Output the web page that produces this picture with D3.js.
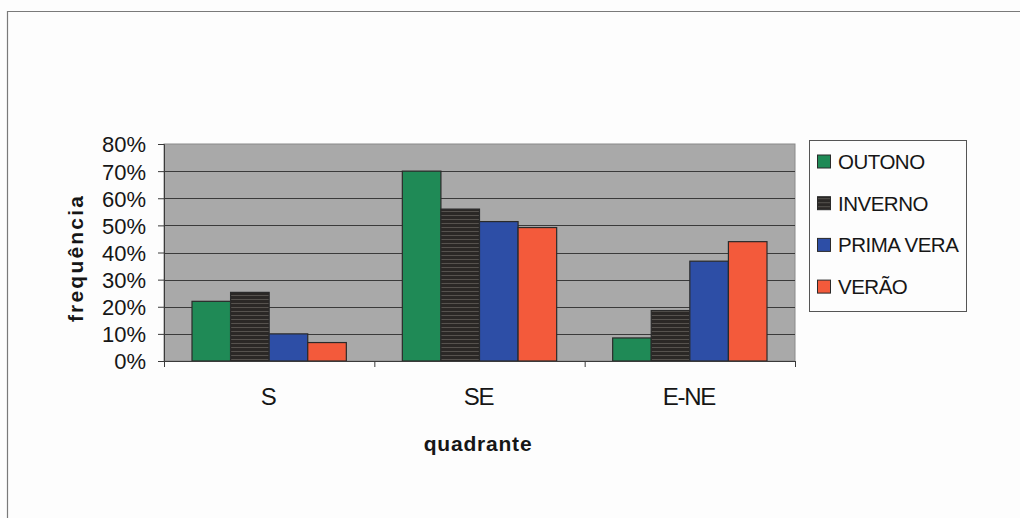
<!DOCTYPE html>
<html>
<head>
<meta charset="utf-8">
<script src="https://cdn.jsdelivr.net/npm/d3@7"></script>
<style>
  html, body { margin: 0; padding: 0; background: #fdfdfd; }
  svg { display: block; }
  text { font-family: "Liberation Sans", Arial, sans-serif; fill: #161616; }
</style>
</head>
<body>
<svg id="chart" width="1020" height="518"></svg>
<script>
// Wind direction frequency by season
const categories = ["S", "SE", "E-NE"];
const seasons = ["OUTONO", "INVERNO", "PRIMA VERA", "VERÃO"];
const outono    = [0.22, 0.70, 0.085];
const inverno   = [0.253, 0.56, 0.186];
const primavera = [0.10, 0.514, 0.368];
const verao     = [0.068, 0.492, 0.44];
const yTicks = [0, 0.1, 0.2, 0.3, 0.4, 0.5, 0.6, 0.7, 0.8];
const colors = ["#1f8a56", "#2b2826", "#2d4ea6", "#f35a3b"];

const seriesValues = [outono, inverno, primavera, verao];

const svg = d3.select("#chart");

// outer frame (top and left edges)
svg.append("path")
  .attr("d", "M7.5,518 V11.5 H1020")
  .attr("fill", "none").attr("stroke", "#7a7a7a").attr("stroke-width", 1.2);

// stripe pattern for the dark series
const defs = svg.append("defs");
const pat = defs.append("pattern").attr("id", "stripes")
  .attr("patternUnits", "userSpaceOnUse").attr("width", 8).attr("height", 4);
pat.append("rect").attr("width", 8).attr("height", 4).attr("fill", colors[1]);
pat.append("rect").attr("y", 3).attr("width", 8).attr("height", 1).attr("fill", "#56524e");

const plot = { left: 164, right: 795, top: 144, bottom: 361 };

const x0 = d3.scaleBand().domain(categories).range([plot.left, plot.right]).paddingInner(0).paddingOuter(0);
const x1 = d3.scaleBand().domain(seasons).range([28, x0.bandwidth() - 28]).padding(0);
const y = d3.scaleLinear().domain([0, 0.8]).range([plot.bottom, plot.top]);

// plot background
svg.append("rect")
  .attr("x", plot.left).attr("y", plot.top)
  .attr("width", plot.right - plot.left).attr("height", plot.bottom - plot.top)
  .attr("fill", "#a9a9a9").attr("stroke", "#8a8a8a").attr("stroke-width", 1);

// gridlines
svg.append("g").selectAll("line")
  .data(yTicks.filter(t => t > 0 && t < 0.8))
  .join("line")
  .attr("x1", plot.left).attr("x2", plot.right)
  .attr("y1", d => Math.round(y(d)) + 0.5).attr("y2", d => Math.round(y(d)) + 0.5)
  .attr("stroke", "#3a3a3a").attr("stroke-width", 1);

// bars
const groups = svg.append("g").selectAll("g")
  .data(categories)
  .join("g")
  .attr("transform", d => `translate(${x0(d)},0)`);

groups.selectAll("rect")
  .data((c, ci) => seasons.map((s, si) => ({ s, si, v: seriesValues[si][ci] })))
  .join("rect")
  .attr("x", d => x1(d.s))
  .attr("y", d => y(d.v))
  .attr("width", x1.bandwidth())
  .attr("height", d => y(0) - y(d.v))
  .attr("fill", d => d.si === 1 ? "url(#stripes)" : colors[d.si])
  .attr("stroke", "#2a2a2a").attr("stroke-width", 1.2);

// y axis
const yAxis = svg.append("g")
  .attr("transform", `translate(${plot.left},0)`)
  .call(d3.axisLeft(y).tickValues(yTicks).tickFormat(d3.format(".0%")).tickSize(6).tickPadding(12));
yAxis.select(".domain").attr("stroke", "#3a3a3a");
yAxis.selectAll(".tick line").attr("stroke", "#3a3a3a");
yAxis.selectAll("text")
  .style("font-size", "22px").style("font-family", "'Liberation Sans', Arial, sans-serif")
  .attr("fill", "#161616").attr("dy", "0.36em");

// x axis with ticks at category boundaries
const xAxis = svg.append("g")
  .attr("transform", `translate(0,${plot.bottom})`);
xAxis.append("line")
  .attr("x1", plot.left).attr("x2", plot.right).attr("y1", 0.5).attr("y2", 0.5)
  .attr("stroke", "#3a3a3a");
const bounds = categories.map(c => x0(c)).concat([x0(categories[categories.length - 1]) + x0.bandwidth()]);
xAxis.selectAll("line.tk").data(bounds).join("line").attr("class", "tk")
  .attr("x1", d => d + 0.5).attr("x2", d => d + 0.5).attr("y1", 0).attr("y2", 6)
  .attr("stroke", "#3a3a3a");
xAxis.selectAll("text").data(categories).join("text")
  .attr("x", d => x0(d) + x0.bandwidth() / 2 - 1)
  .attr("y", 44)
  .attr("text-anchor", "middle")
  .style("font-size", "24px").style("letter-spacing", "-1.3px")
  .text(d => d);

// axis titles
svg.append("text")
  .attr("x", 478).attr("y", 451)
  .attr("text-anchor", "middle")
  .style("font-size", "21px").style("font-weight", "bold").style("letter-spacing", "0.8px")
  .text("quadrante");

svg.append("text")
  .attr("transform", "translate(83,258) rotate(-90)")
  .attr("text-anchor", "middle")
  .style("font-size", "21px").style("font-weight", "bold").style("letter-spacing", "2.2px")
  .text("frequência");

// legend
const legend = svg.append("g");
legend.append("rect")
  .attr("x", 809.5).attr("y", 140.5).attr("width", 157).attr("height", 171)
  .attr("fill", "#fdfdfd").attr("stroke", "#555").attr("stroke-width", 1);
const items = legend.selectAll("g.item").data(seasons).join("g").attr("class", "item")
  .attr("transform", (d, i) => `translate(0,${161.5 + i * 41.7})`);
items.append("rect")
  .attr("x", 817.5).attr("y", -6.5).attr("width", 13).attr("height", 13)
  .attr("fill", (d, i) => i === 1 ? "url(#stripes)" : colors[i])
  .attr("stroke", "#2a2a2a").attr("stroke-width", 1);
items.append("text")
  .attr("x", 838).attr("y", 0).attr("dy", "0.36em")
  .style("font-size", "20.5px").style("letter-spacing", "-0.5px")
  .text(d => d);
</script>
</body>
</html>
